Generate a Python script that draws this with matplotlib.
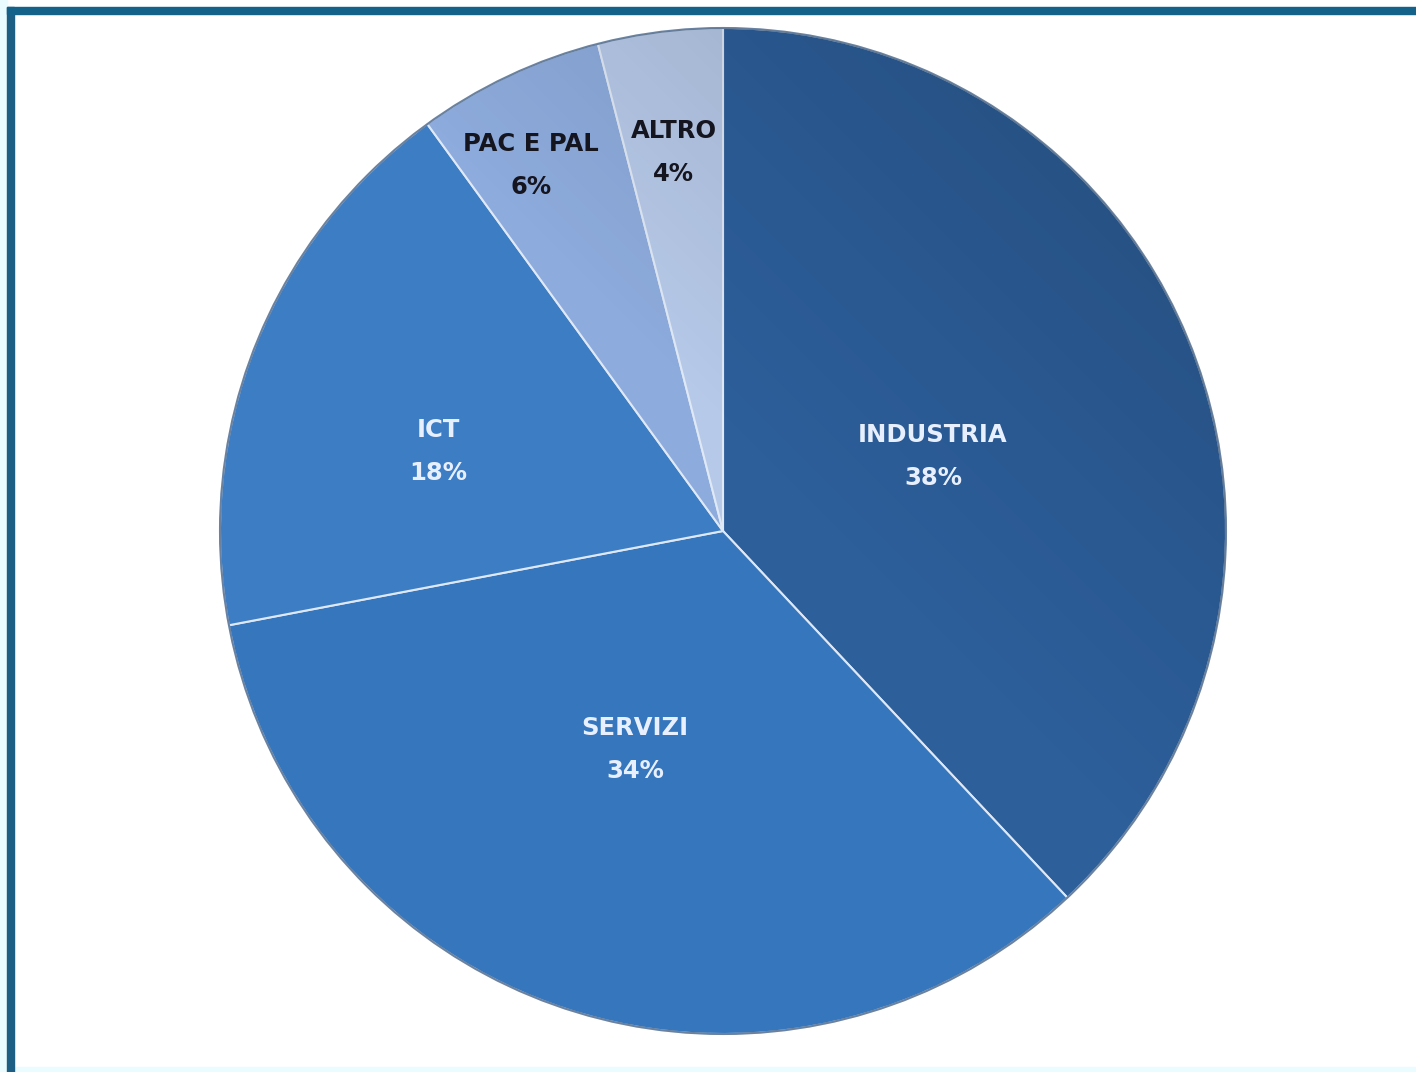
import matplotlib.pyplot as plt
import numpy as np
from matplotlib.patches import Rectangle, Circle

# sector shares (%)
settori = ['INDUSTRIA', 'SERVIZI', 'ICT', 'PAC E PAL', 'ALTRO']
quote = [38, 34, 18, 6, 4]

colori = ['#2d5f9b', '#3676bd', '#3d7dc4', '#8dabdc', '#b6c9e8']
colori_testo = ['#e8f0ff', '#e8f0ff', '#e8f0ff', '#15151f', '#15151f']
# label placement: fraction of radius, angle shift from mid-slice (deg)
dist_etichette = [0.443, 0.467, 0.588, 0.822, 0.76]
shift_etichette = [-2.0, -4.0, 5.9, 2.5, 0.2]

W, H = 1416, 1072
fig = plt.figure(figsize=(W / 100, H / 100), dpi=100)
fig.patch.set_facecolor('white')
ax = fig.add_axes([0, 0, 1, 1])

cx, cy, r = 723, H - 531, 503

wedges, _ = ax.pie(quote, colors=colori, startangle=90, counterclock=False,
                   center=(cx, cy), radius=r,
                   wedgeprops=dict(edgecolor='#dfe8f5', linewidth=1.5))

# soft light/shadow across the pie
yy, xx = np.mgrid[0:200, 0:200]
grad = (xx + (199 - yy)) / 398.0
ombra = np.zeros((200, 200, 4))
ombra[..., 3] = np.clip((grad - 0.55) * 0.45, 0, 0.2)
img = ax.imshow(ombra, extent=(cx - r, cx + r, cy - r, cy + r), zorder=2,
                interpolation='bilinear')
img.set_clip_path(Circle((cx, cy), r, transform=ax.transData))

# dark rim
ax.add_patch(Circle((cx, cy), r, fill=False, edgecolor='#1d3f66',
                    linewidth=1.5, alpha=0.6, zorder=3))

for w, nome, q, c, d, s in zip(wedges, settori, quote, colori_testo,
                               dist_etichette, shift_etichette):
    ang = np.deg2rad((w.theta1 + w.theta2) / 2 + s)
    x = cx + d * r * np.cos(ang)
    y = cy + d * r * np.sin(ang)
    ax.text(x, y + 21, nome, ha='center', va='center', color=c,
            fontsize=17.5, fontweight='bold', family='DejaVu Sans', zorder=4)
    ax.text(x, y - 22, f'{q}%', ha='center', va='center', color=c,
            fontsize=17.5, fontweight='bold', family='DejaVu Sans', zorder=4)

ax.set_xlim(0, W)
ax.set_ylim(0, H)
ax.set_aspect('auto')
ax.axis('off')

# frame on top and left
fig.patches.append(Rectangle((0, 0), 7 / W, 1, transform=fig.transFigure,
                             color='#eafcff', zorder=0))
fig.patches.append(Rectangle((0, 0), 1, 5 / H, transform=fig.transFigure,
                             color='#eafcff', zorder=0))
fig.patches.append(Rectangle((7 / W, 0), 7 / W, 1 - 7 / H, transform=fig.transFigure,
                             color='#1d5f84', zorder=5))
fig.patches.append(Rectangle((7 / W, 1 - 14 / H), 1, 7 / H, transform=fig.transFigure,
                             color='#14618a', zorder=5))

fig.savefig('out.png', dpi=100)
